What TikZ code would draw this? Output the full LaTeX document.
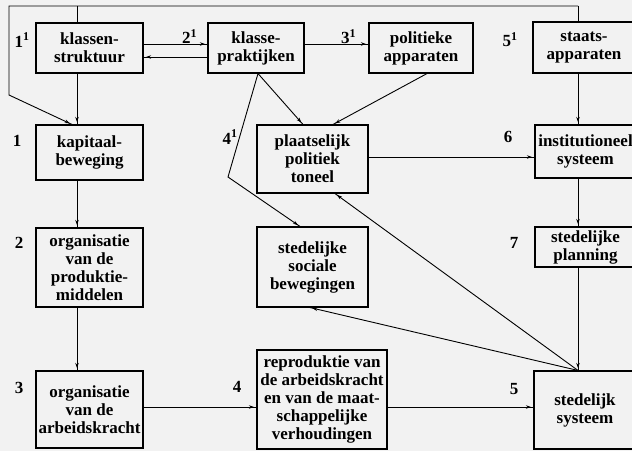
\documentclass[tikz,border=0pt]{standalone}
\usepackage{fontspec}
\setmainfont{Liberation Serif}
\usetikzlibrary{arrows.meta,decorations.markings}
\begin{document}
\begin{tikzpicture}[x=1pt,y=-1pt,
  box/.style={draw, line width=1.1pt, rectangle, inner sep=0pt, align=center, font=\fontsize{17}{18}\selectfont\bfseries},
  lab/.style={inner sep=1pt, font=\fontsize{17}{18}\selectfont\bfseries},
  con/.style={line width=0.9pt},
  arr/.style={con, postaction={decorate}, decoration={markings, mark=at position -2.5pt with {\arrow{Stealth[length=5pt,width=3.5pt]}}}}
]
\fill[black!5] (0,0) rectangle (632,451);
\useasboundingbox (0,0) rectangle (632,451);

% boxes
\node[box, minimum width=107pt, minimum height=50pt] (ks) at (89.5,48) {klassen-\\struktuur};
\node[box, minimum width=96pt, minimum height=50pt] (kp) at (256,48) {klasse-\\praktijken};
\node[box, minimum width=104pt, minimum height=50pt] (pa) at (421,48) {politieke\\apparaten};
\node[box, minimum width=102pt, minimum height=51pt] (sa) at (584,47.5) {staats-\\apparaten};
\node[box, minimum width=107pt, minimum height=55pt] (kb) at (89.5,152.5) {kapitaal-\\beweging};
\node[box, minimum width=107pt, minimum height=79pt] (om) at (89.5,267.5) {organisatie\\van de\\produktie-\\middelen};
\node[box, minimum width=107pt, minimum height=77pt] (oa) at (89.5,409.5) {organisatie\\van de\\arbeidskracht};
\node[box, minimum width=130pt, minimum height=99pt] (rp) at (322,399.5) {reproduktie van\\de arbeidskracht\\en van de maat-\\schappelijke\\verhoudingen};
\node[box, minimum width=102pt, minimum height=78pt] (ss) at (585,410) {stedelijk\\systeem};
\node[box, minimum width=111pt, minimum height=68pt] (pt) at (312.5,159) {plaatselijk\\politiek\\toneel};
\node[box, minimum width=111pt, minimum height=80pt] (sb) at (312.5,267) {stedelijke\\sociale\\bewegingen};
\node[box, minimum width=101pt, minimum height=53pt] (is) at (585.5,151.5) {institutioneel\\systeem};
\node[box, minimum width=101pt, minimum height=40pt] (sp) at (585.5,247) {stedelijke\\planning};

% helper coordinates
\coordinate (lc) at (77,0);
\coordinate (rc) at (578,0);
\coordinate (tl) at (9,6);
\coordinate (tr) at (578,6);
\coordinate (bnd) at (9,95);
\coordinate (k4) at (228,177);

% top loop
\draw[con] (ks.north -| lc) -- (lc |- tl);
\draw[con] (tr) -- (sa.north -| tr);
\draw[arr] (tr) -- (tl) -- (bnd) -- ([xshift=-17.5pt]kb.north);

% top row
\draw[arr] ([yshift=4pt]ks.east) -- node[pos=0.72, above, lab, inner sep=0pt] {2\textsuperscript{1}} ([yshift=4pt]kp.west);
\draw[arr] ([yshift=-9pt]kp.west) -- ([yshift=-9pt]ks.east);
\draw[arr] ([yshift=4pt]kp.east) -- node[pos=0.69, above, lab, inner sep=0pt] {3\textsuperscript{1}} ([yshift=4pt]pa.west);

% middle links
\draw[arr] ([xshift=2pt]kp.south) -- ([xshift=-9.5pt]pt.north);
\draw[arr] ([xshift=2pt]kp.south) -- (k4) -- ([xshift=-12.5pt]sb.north);
\draw[arr] ([xshift=6pt]pa.south) -- ([xshift=20.5pt]pt.north);
\draw[arr] ([yshift=2pt]pt.east) -- ([yshift=-5.5pt]is.west);

% right column
\draw[arr] (sa.south -| rc) -- (is.north -| rc);
\draw[arr] (is.south -| rc) -- (sp.north -| rc);
\draw[arr] (sp.south -| rc) -- (ss.north -| rc);
\draw[arr] (ss.north -| rc) -- ([xshift=22.5pt]pt.south);
\draw[arr] (ss.north -| rc) -- ([xshift=-2.5pt]sb.south);

% left column
\draw[arr] (ks.south -| lc) -- (kb.north -| lc);
\draw[arr] (kb.south -| lc) -- (om.north -| lc);
\draw[arr] (om.south -| lc) -- (oa.north -| lc);

% bottom row
\draw[arr] ([yshift=2.5pt]oa.east) -- ([yshift=-7.5pt]rp.west);
\draw[arr] ([yshift=-7.5pt]rp.east) -- ([yshift=3pt]ss.west);

% labels
\node[lab] (l11) at (22,40) {1\textsuperscript{1}};
\node[lab] (l1) at (17,141) {1};
\node[lab] (l2) at (19,243) {2};
\node[lab] (l3) at (19,388) {3};
\node[lab] (l4) at (237,387) {4};
\node[lab] (l5) at (514,389) {5};
\node[lab] (l6) at (508,137) {6};
\node[lab] (l7) at (514,243) {7};
\node[lab] (l51) at (510,40) {5\textsuperscript{1}};
\node[lab] (l41) at (230,137) {4\textsuperscript{1}};
\end{tikzpicture}
\end{document}
